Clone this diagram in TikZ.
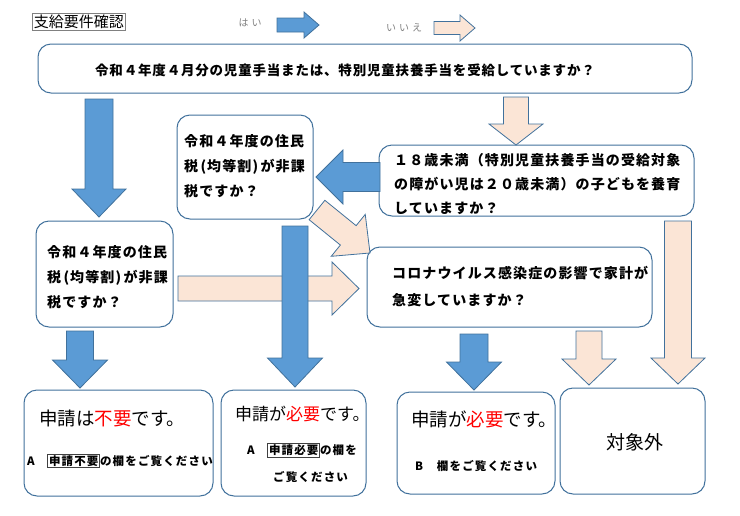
\documentclass[tikz,border=0pt]{standalone}
\usepackage{fontspec}
\setmainfont{Noto Sans CJK JP}
\newfontfamily\qfont[LetterSpace=8]{Noto Sans CJK JP}
\newfontfamily\mfont[LetterSpace=6]{Noto Sans CJK JP}
\newfontfamily\sfont[LetterSpace=10]{Noto Sans CJK JP}
\newfontfamily\lfont[LetterSpace=30]{Noto Sans CJK JP}
\usetikzlibrary{calc}

\definecolor{yesblue}{HTML}{5B9BD5}
\definecolor{nopeach}{HTML}{FBE5D6}
\definecolor{edgeblue}{HTML}{41719C}
\definecolor{notered}{HTML}{FF0000}

% block arrow: colour, from, to, body half width, head half width, head length
\newcommand{\blockarrow}[6]{%
  \pgfmathanglebetweenpoints{\pgfpointanchor{#2}{center}}{\pgfpointanchor{#3}{center}}%
  \let\barrowangle\pgfmathresult
  \pgfpointdiff{\pgfpointanchor{#2}{center}}{\pgfpointanchor{#3}{center}}%
  \pgfgetlastxy{\barrowdx}{\barrowdy}%
  \pgfmathsetmacro{\barrowlen}{veclen(\barrowdx,\barrowdy)}%
  \pgfmathsetmacro{\barrowneck}{\barrowlen-#6}%
  \filldraw[fill=#1, draw=edgeblue, line width=0.8pt, shift={(#2)}, rotate=\barrowangle]
    (0,-#4) -- (\barrowneck,-#4) -- (\barrowneck,-#5) -- (\barrowlen,0)
    -- (\barrowneck,#5) -- (\barrowneck,#4) -- (0,#4) -- cycle;
}

\begin{document}
\begin{tikzpicture}[x=1pt, y=-1pt,
  qbox/.style={draw=edgeblue, line width=1pt, rounded corners=13pt, fill=white},
  qtext/.style={font=\qfont\bfseries\fontsize{14}{25}\selectfont, align=left, inner sep=0pt, anchor=west},
  bigtext/.style={font=\fontsize{18.5}{20}\selectfont, inner sep=0pt, anchor=west},
  smalltext/.style={font=\sfont\bfseries\fontsize{11.5}{14}\selectfont, inner sep=0pt, anchor=west}]

\useasboundingbox (0,0) rectangle (740,515);
\setlength{\fboxsep}{1pt}
\setlength{\fboxrule}{0.6pt}

% legend
\node[draw=gray, line width=0.6pt, inner sep=1.5pt, font=\fontsize{15}{16}\selectfont] (title) at (79,21.5) {支給要件確認};
\node[font=\lfont\fontsize{10}{12}\selectfont, text=gray] (yes) at (250,23) {はい};
\node[font=\lfont\fontsize{10}{12}\selectfont, text=gray] (no) at (404,28) {いいえ};

\coordinate (ys) at (277,25);
\coordinate (ye) at (319,25);
\coordinate (ns) at (434,28);
\coordinate (ne) at (475,28);

\blockarrow{yesblue}{ys}{ye}{7}{13}{15}
\blockarrow{nopeach}{ns}{ne}{6.5}{13}{15}

% question boxes
\node[qbox, minimum width=654, minimum height=49] (top) at (365,68.5) {};
\node[qbox, minimum width=136, minimum height=104] (tax1) at (245,167) {};
\node[qbox, minimum width=137, minimum height=106] (tax2) at (104.5,274) {};
\node[qbox, minimum width=315, minimum height=71] (child) at (536.5,180.5) {};
\node[qbox, minimum width=285, minimum height=80] (covid) at (509.5,287) {};

\node[qtext, font=\mfont\bfseries\fontsize{13.5}{16}\selectfont] (toptxt) at (95,70)
  {令和４年度４月分の児童手当または、特別児童扶養手当を受給していますか？};
\node[qtext] (tax1txt) at (184,166) {令和４年度の住民\\税\,(均等割)\,が非課\\税ですか？};
\node[qtext] (tax2txt) at (47,277.5) {令和４年度の住民\\税\,(均等割)\,が非課\\税ですか？};
\node[qtext, font=\qfont\bfseries\fontsize{14}{24}\selectfont] (childtxt) at (394,184)
  {１８歳未満（特別児童扶養手当の受給対象\\の障がい児は２０歳未満）の子どもを養育\\していますか？};
\node[qtext, font=\qfont\bfseries\fontsize{14}{27}\selectfont] (covidtxt) at (392,286.5)
  {コロナウイルス感染症の影響で家計が\\急変していますか？};

% result boxes
\node[qbox, minimum width=189, minimum height=106] (resA) at (118.5,443) {};
\node[qbox, minimum width=145, minimum height=106] (resB) at (293.5,443) {};
\node[qbox, minimum width=158, minimum height=102] (resC) at (476,443) {};
\node[qbox, minimum width=145, minimum height=106] (resD) at (632.5,441) {};

\node[bigtext] (resAtxt) at (39,418) {申請は\textcolor{notered}{不要}です。};
\node[smalltext] (resAsub) at (27,461) {A　\fcolorbox{darkgray}{white}{申請不要}の欄をご覧ください};
\node[bigtext, font=\fontsize{17}{20}\selectfont] (resBtxt) at (235,414) {申請が\textcolor{notered}{必要}です。};
\node[smalltext] (resBsub) at (247,450) {A　\fcolorbox{darkgray}{white}{申請必要}の欄を};
\node[smalltext] (resBsub2) at (273,477) {ご覧ください};
\node[bigtext] (resCtxt) at (411,419) {申請が\textcolor{notered}{必要}です。};
\node[smalltext] (resCsub) at (415,466) {B　欄をご覧ください};
\node[font=\fontsize{19}{20}\selectfont, inner sep=0pt] (resDtxt) at (635,442) {対象外};

% arrows
\coordinate (a1s) at (99,99);
\coordinate (a1e) at (99,217);
\coordinate (a2s) at (516,97);
\coordinate (a2e) at (516,145);
\coordinate (a3s) at (380,177);
\coordinate (a3e) at (316,177);
\coordinate (a4s) at (317,210);
\coordinate (a4e) at (370,253);
\coordinate (a5s) at (178,288.5);
\coordinate (a5e) at (359,288.5);
\coordinate (a6s) at (295,226);
\coordinate (a6e) at (295,387);
\coordinate (a7s) at (80,331);
\coordinate (a7e) at (80,388);
\coordinate (a8s) at (474,334);
\coordinate (a8e) at (474,390);
\coordinate (a9s) at (589,331);
\coordinate (a9e) at (589,385);
\coordinate (a10s) at (678,221);
\coordinate (a10e) at (678,384);

\blockarrow{yesblue}{a1s}{a1e}{14}{27}{28}
\blockarrow{nopeach}{a2s}{a2e}{12.5}{27}{21}
\blockarrow{yesblue}{a3s}{a3e}{14.5}{27}{27}
\blockarrow{nopeach}{a4s}{a4e}{12.5}{27}{28}
\blockarrow{nopeach}{a5s}{a5e}{12.5}{26.5}{27}
\blockarrow{yesblue}{a6s}{a6e}{13}{27.5}{29}
\blockarrow{yesblue}{a7s}{a7e}{13.5}{27.5}{28}
\blockarrow{yesblue}{a8s}{a8e}{14}{27.5}{28}
\blockarrow{nopeach}{a9s}{a9e}{13}{27}{26}
\blockarrow{nopeach}{a10s}{a10e}{13.5}{27}{26}

\end{tikzpicture}
\end{document}
